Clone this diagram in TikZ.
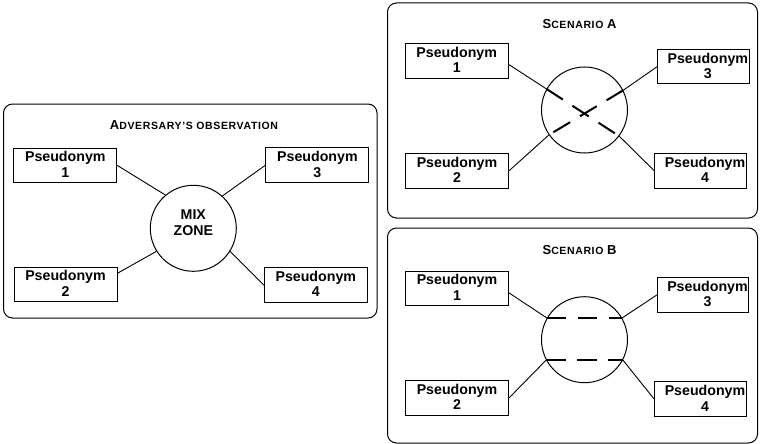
\documentclass[tikz,border=0pt]{standalone}
\usepackage{fontspec}
\setmainfont{Liberation Sans}
\newfontfamily\ttlfont[LetterSpace=6]{Liberation Sans Bold}

% box labels: a plain centred one and one set off towards the right
\newcommand\pnym[1]{Pseudonym\\#1\rule[-2pt]{0pt}{0pt}}
\newcommand\pnymr[1]{\hspace*{9pt}Pseudonym\\\hspace*{9pt}#1\rule[-2pt]{0pt}{0pt}}
% faked small capitals for the panel headings
\newcommand\smcap[2]{{\fontsize{13}{15}\selectfont#1}{\fontsize{10.5}{12}\selectfont#2}}
\newcommand\pnfont{\bfseries\fontsize{14.2}{15.5}\selectfont}

\tikzset{
  panel/.style={draw, line width=1pt, rounded corners=9pt},
  pbox/.style={draw, line width=1pt, align=center, font=\pnfont,
    inner xsep=1pt, inner ysep=0pt, minimum width=103pt, minimum height=34.5pt},
  zone/.style={circle, draw, line width=1pt, minimum size=86pt, inner sep=0pt,
    align=center, font=\pnfont},
  link/.style={line width=0.9pt},
  hidden/.style={line width=2pt, dash pattern=on 19.5pt off 11.5pt},
  ttl/.style={font=\ttlfont, anchor=base, inner sep=0pt}
}

\begin{document}
\begin{tikzpicture}[x=1pt, y=-1pt]
\useasboundingbox (0,0) rectangle (760,444);

% ---- adversary's view ----
\draw[panel] (3.5,104) rectangle (377,318);
\node[ttl] (tl) at (194,129.5) {\smcap{A}{DVERSARY’S OBSERVATION}};
\node[pbox] (l1) at (65.3,165.4) {\pnym{1}};
\node[pbox] (l3) at (317.4,165.2) {\pnym{3}};
\node[pbox] (l2) at (65.5,284.3) {\pnym{2}};
\node[pbox] (l4) at (315.8,285) {\pnym{4}};
\node[zone] (mz) at (193.3,228.3) {MIX\\ZONE\rule[-11pt]{0pt}{0pt}};
\draw[link] (l1.east) -- (mz.130);
\draw[link] (l3.west) -- (mz.48);
\draw[link] (l2.12) -- (mz.212);
\draw[link] (l4.west) -- (mz.-32);

% ---- scenario A: paths cross inside the zone ----
\draw[panel] (387.5,3) rectangle (757.5,218);
\node[ttl] (ta) at (579.5,28.5) {\smcap{S}{CENARIO }\smcap{A}{}};
\node[pbox] (a1) at (456.7,60.8) {\pnym{1}};
\node[pbox, minimum width=91pt] (a3) at (703.3,66.7) {\pnymr{3}};
\node[pbox] (a2) at (457,170.8) {\pnym{2}};
\node[pbox, minimum width=91pt] (a4) at (700.5,170.8) {\pnymr{4}};
\node[zone] (ca) at (584.5,110) {};
\draw[link] (a1.-4) -- (ca.151);
\draw[hidden] (ca.151) -- (ca.-37);
\draw[link] (ca.-37) -- (a4.west);
\draw[link] (a3.west) -- (ca.27);
\draw[hidden] (ca.27) -- (ca.215);
\draw[link] (ca.215) -- (a2.east);

% ---- scenario B: paths run straight across ----
\draw[panel] (387.5,228) rectangle (757.5,443);
\node[ttl] (tb) at (579.5,254.5) {\smcap{S}{CENARIO }\smcap{B}{}};
\node[pbox] (b1) at (457,288.3) {\pnym{1}};
\node[pbox, minimum width=91pt] (b3) at (703,295) {\pnymr{3}};
\node[pbox] (b2) at (457,398) {\pnym{2}};
\node[pbox, minimum width=91pt] (b4) at (700.5,399.2) {\pnymr{4}};
\node[zone] (cb) at (584.5,339.7) {};
\draw[link] (b1.-5) -- (cb.150);
\draw[hidden] (cb.150) -- (cb.30);
\draw[link] (cb.30) -- (b3.west);
\draw[link] (b2.east) -- (cb.208);
\draw[hidden] (cb.208) -- (cb.-28);
\draw[link] (cb.-28) -- (b4.west);
\end{tikzpicture}
\end{document}
